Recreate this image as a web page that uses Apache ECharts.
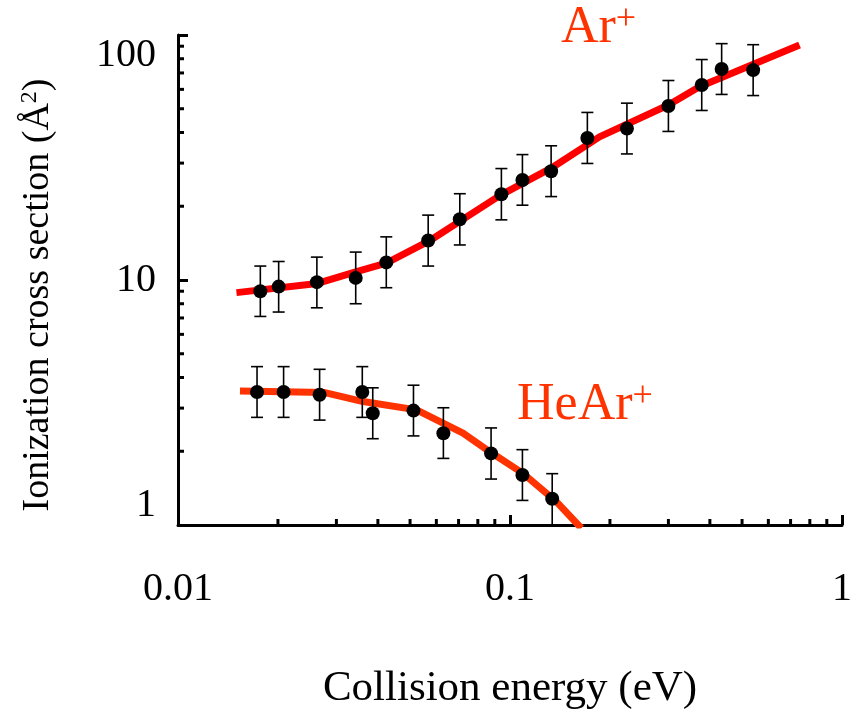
<!DOCTYPE html>
<html>
<head>
<meta charset="utf-8">
<script src="https://cdn.jsdelivr.net/npm/echarts@6/dist/echarts.min.js"></script>
<style>
html,body{margin:0;padding:0;background:#fff;}
#chart{width:857px;height:713px;}
</style>
</head>
<body>
<div id="chart"></div>
<script>
// ---- data ----
const arEnergy = [0.0177, 0.0201, 0.0262, 0.0343, 0.0424, 0.0567, 0.0706, 0.0942, 0.109, 0.133, 0.171, 0.225, 0.300, 0.378, 0.434, 0.540];
const arSigma  = [9.0, 9.4, 9.8, 10.2, 11.8, 14.5, 17.7, 22.4, 25.6, 27.8, 38.0, 41.5, 51.3, 62.5, 72.6, 71.9];
const arHigh   = [11.4, 11.9, 12.4, 13.0, 15.0, 18.4, 22.5, 28.5, 32.5, 35.3, 48.3, 52.7, 65.2, 79.4, 92.2, 91.3];
const arLow    = [7.1, 7.4, 7.7, 8.0, 9.3, 11.4, 13.9, 17.6, 20.2, 21.9, 29.9, 32.7, 40.4, 49.2, 57.2, 56.6];

const heEnergy = [0.0173, 0.0208, 0.0267, 0.0359, 0.0386, 0.0512, 0.0630, 0.0877, 0.109, 0.134];
const heSigma  = [3.49, 3.49, 3.40, 3.49, 2.86, 2.93, 2.37, 1.96, 1.60, 1.28];
const heHigh   = [4.43, 4.43, 4.32, 4.43, 3.63, 3.72, 3.01, 2.49, 2.03, 1.62];
const heLow    = [2.75, 2.75, 2.68, 2.75, 2.25, 2.31, 1.87, 1.54, 1.26, 1.00];

const arFitEnergy = [0.0150, 0.0263, 0.0343, 0.0424, 0.0571, 0.0931, 0.133, 0.186, 0.300, 0.372, 0.745];
const arFitSigma  = [8.88, 9.68, 10.8, 11.73, 14.43, 22.1, 28.6, 38.4, 51.8, 61.5, 91.0];

const heFitEnergy = [0.01537, 0.0277, 0.0361, 0.0523, 0.0722, 0.0870, 0.1094, 0.1379, 0.164];
const heFitSigma  = [3.52, 3.47, 3.19, 2.95, 2.37, 1.99, 1.625, 1.245, 0.97];

const xMin = 0.01, xMax = 1, yMin = 1, yMax = 100;
const xTickLabels = {0.01: '0.01', 0.1: '0.1', 1: '1'};
const yTickLabels = {1: '1', 10: '10', 100: '100'};
const xMinorTicks = [0.02,0.03,0.04,0.05,0.06,0.07,0.08,0.09,0.2,0.3,0.4,0.5,0.6,0.7,0.8,0.9];
const yMinorTicks = [2,3,4,5,6,7,8,9,20,30,40,50,60,70,80,90];

const xTitle = 'Collision energy (eV)';
const yTitle = 'Ionization cross section (Å{sup|2})';
const arLabel = 'Ar';
const heLabel = 'HeAr';

// ---- chart ----
const FONT = "'Liberation Serif','Times New Roman',serif";
const zip = (a, b) => a.map((v, i) => [v, b[i]]);
const zip3 = (a, b, c) => a.map((v, i) => [v, b[i], c[i]]);

function errRender(params, api) {
  const x = api.value(0);
  const lo = api.coord([x, api.value(1)]);
  const hi = api.coord([x, api.value(2)]);
  const w = 6;
  const st = {stroke: '#000', lineWidth: 1.6};
  return {type: 'group', children: [
    {type: 'line', shape: {x1: lo[0], y1: lo[1], x2: hi[0], y2: hi[1]}, style: st},
    {type: 'line', shape: {x1: lo[0]-w, y1: lo[1], x2: lo[0]+w, y2: lo[1]}, style: st},
    {type: 'line', shape: {x1: hi[0]-w, y1: hi[1], x2: hi[0]+w, y2: hi[1]}, style: st}
  ]};
}

const chart = echarts.init(document.getElementById('chart'));
chart.setOption({
  backgroundColor: '#fff',
  animation: false,
  grid: {left: 178, right: 15, top: 35, bottom: 188, containLabel: false, outerBoundsMode: 'none'},
  xAxis: {
    type: 'log', logBase: 10, min: xMin, max: xMax,
    name: xTitle, nameLocation: 'middle', nameGap: 142,
    nameTextStyle: {fontFamily: FONT, fontSize: 43, color: '#000'},
    axisLine: {show: true, onZero: false, lineStyle: {color: '#000', width: 3}},
    axisTick: {show: true, inside: true, length: 10, lineStyle: {color: '#000', width: 3}},
    splitLine: {show: false},
    axisLabel: {margin: 44, fontFamily: FONT, fontSize: 40, color: '#000',
      formatter: v => xTickLabels[+v.toPrecision(3)] ?? ''}
  },
  yAxis: {
    type: 'log', logBase: 10, min: yMin, max: yMax,
    name: yTitle, nameLocation: 'middle', nameGap: 120, nameRotate: 90,
    nameTextStyle: {fontFamily: FONT, fontSize: 38, color: '#000', lineHeight: 40, padding: [0, 30, 0, 0],
      rich: {sup: {fontFamily: FONT, fontSize: 24, verticalAlign: 'top', lineHeight: 24}}},
    axisLine: {show: true, onZero: false, lineStyle: {color: '#000', width: 3}},
    axisTick: {show: true, inside: true, length: 10, lineStyle: {color: '#000', width: 3}},
    splitLine: {show: false},
    axisLabel: {margin: 22, fontFamily: FONT, fontSize: 40, color: '#000',
      verticalAlignMinLabel: 'bottom', verticalAlignMaxLabel: 'top',
      formatter: v => yTickLabels[+v.toPrecision(3)] ?? ''}
  },
  series: [
    {type: 'line', name: 'Ar+ fit', data: zip(arFitEnergy, arFitSigma), showSymbol: false, symbol: 'none',
      lineStyle: {color: '#ff0000', width: 7}, z: 2, clip: true},
    {type: 'line', name: 'HeAr+ fit', data: zip(heFitEnergy, heFitSigma), showSymbol: false, symbol: 'none',
      lineStyle: {color: '#ff3300', width: 7}, z: 2, clip: true},
    {type: 'custom', name: 'Ar+ err', data: zip3(arEnergy, arLow, arHigh), renderItem: errRender,
      encode: {x: 0, y: [1, 2]}, z: 3, clip: false},
    {type: 'custom', name: 'HeAr+ err', data: zip3(heEnergy, heLow, heHigh), renderItem: errRender,
      encode: {x: 0, y: [1, 2]}, z: 3, clip: false},
    {type: 'scatter', name: 'Ar+', data: zip(arEnergy, arSigma), symbol: 'circle', symbolSize: 14,
      itemStyle: {color: '#000', opacity: 1}, z: 4},
    {type: 'scatter', name: 'HeAr+', data: zip(heEnergy, heSigma), symbol: 'circle', symbolSize: 14,
      itemStyle: {color: '#000', opacity: 1}, z: 4},
    {type: 'custom', name: 'x minor ticks', silent: true, clip: false, z: 5,
      data: xMinorTicks.map(v => [v, yMin]), encode: {x: 0, y: 1},
      renderItem: (p, api) => {
        const c = api.coord([api.value(0), yMin]);
        return {type: 'line', shape: {x1: c[0], y1: c[1], x2: c[0], y2: c[1]-6}, style: {stroke: '#000', lineWidth: 3}};
      }},
    {type: 'custom', name: 'y minor ticks', silent: true, clip: false, z: 5,
      data: yMinorTicks.map(v => [xMin, v]), encode: {x: 0, y: 1},
      renderItem: (p, api) => {
        const c = api.coord([xMin, api.value(1)]);
        return {type: 'line', shape: {x1: c[0], y1: c[1], x2: c[0]+6, y2: c[1]}, style: {stroke: '#000', lineWidth: 3}};
      }}
  ],
  graphic: [
    {type: 'text', left: 561, top: 2, silent: true,
      style: {text: '{m|' + arLabel + '}{s|+}', fill: '#ff3300',
        rich: {m: {fontFamily: FONT, fontSize: 52, lineHeight: 52, fill: '#ff3300'},
               s: {fontFamily: FONT, fontSize: 36, lineHeight: 36, verticalAlign: 'top', fill: '#ff3300'}}}},
    {type: 'text', left: 517, top: 379, silent: true,
      style: {text: '{m|' + heLabel + '}{s|+}', fill: '#ff3300',
        rich: {m: {fontFamily: FONT, fontSize: 52, lineHeight: 52, fill: '#ff3300'},
               s: {fontFamily: FONT, fontSize: 36, lineHeight: 36, verticalAlign: 'top', fill: '#ff3300'}}}}
  ]
});
</script>
</body>
</html>
